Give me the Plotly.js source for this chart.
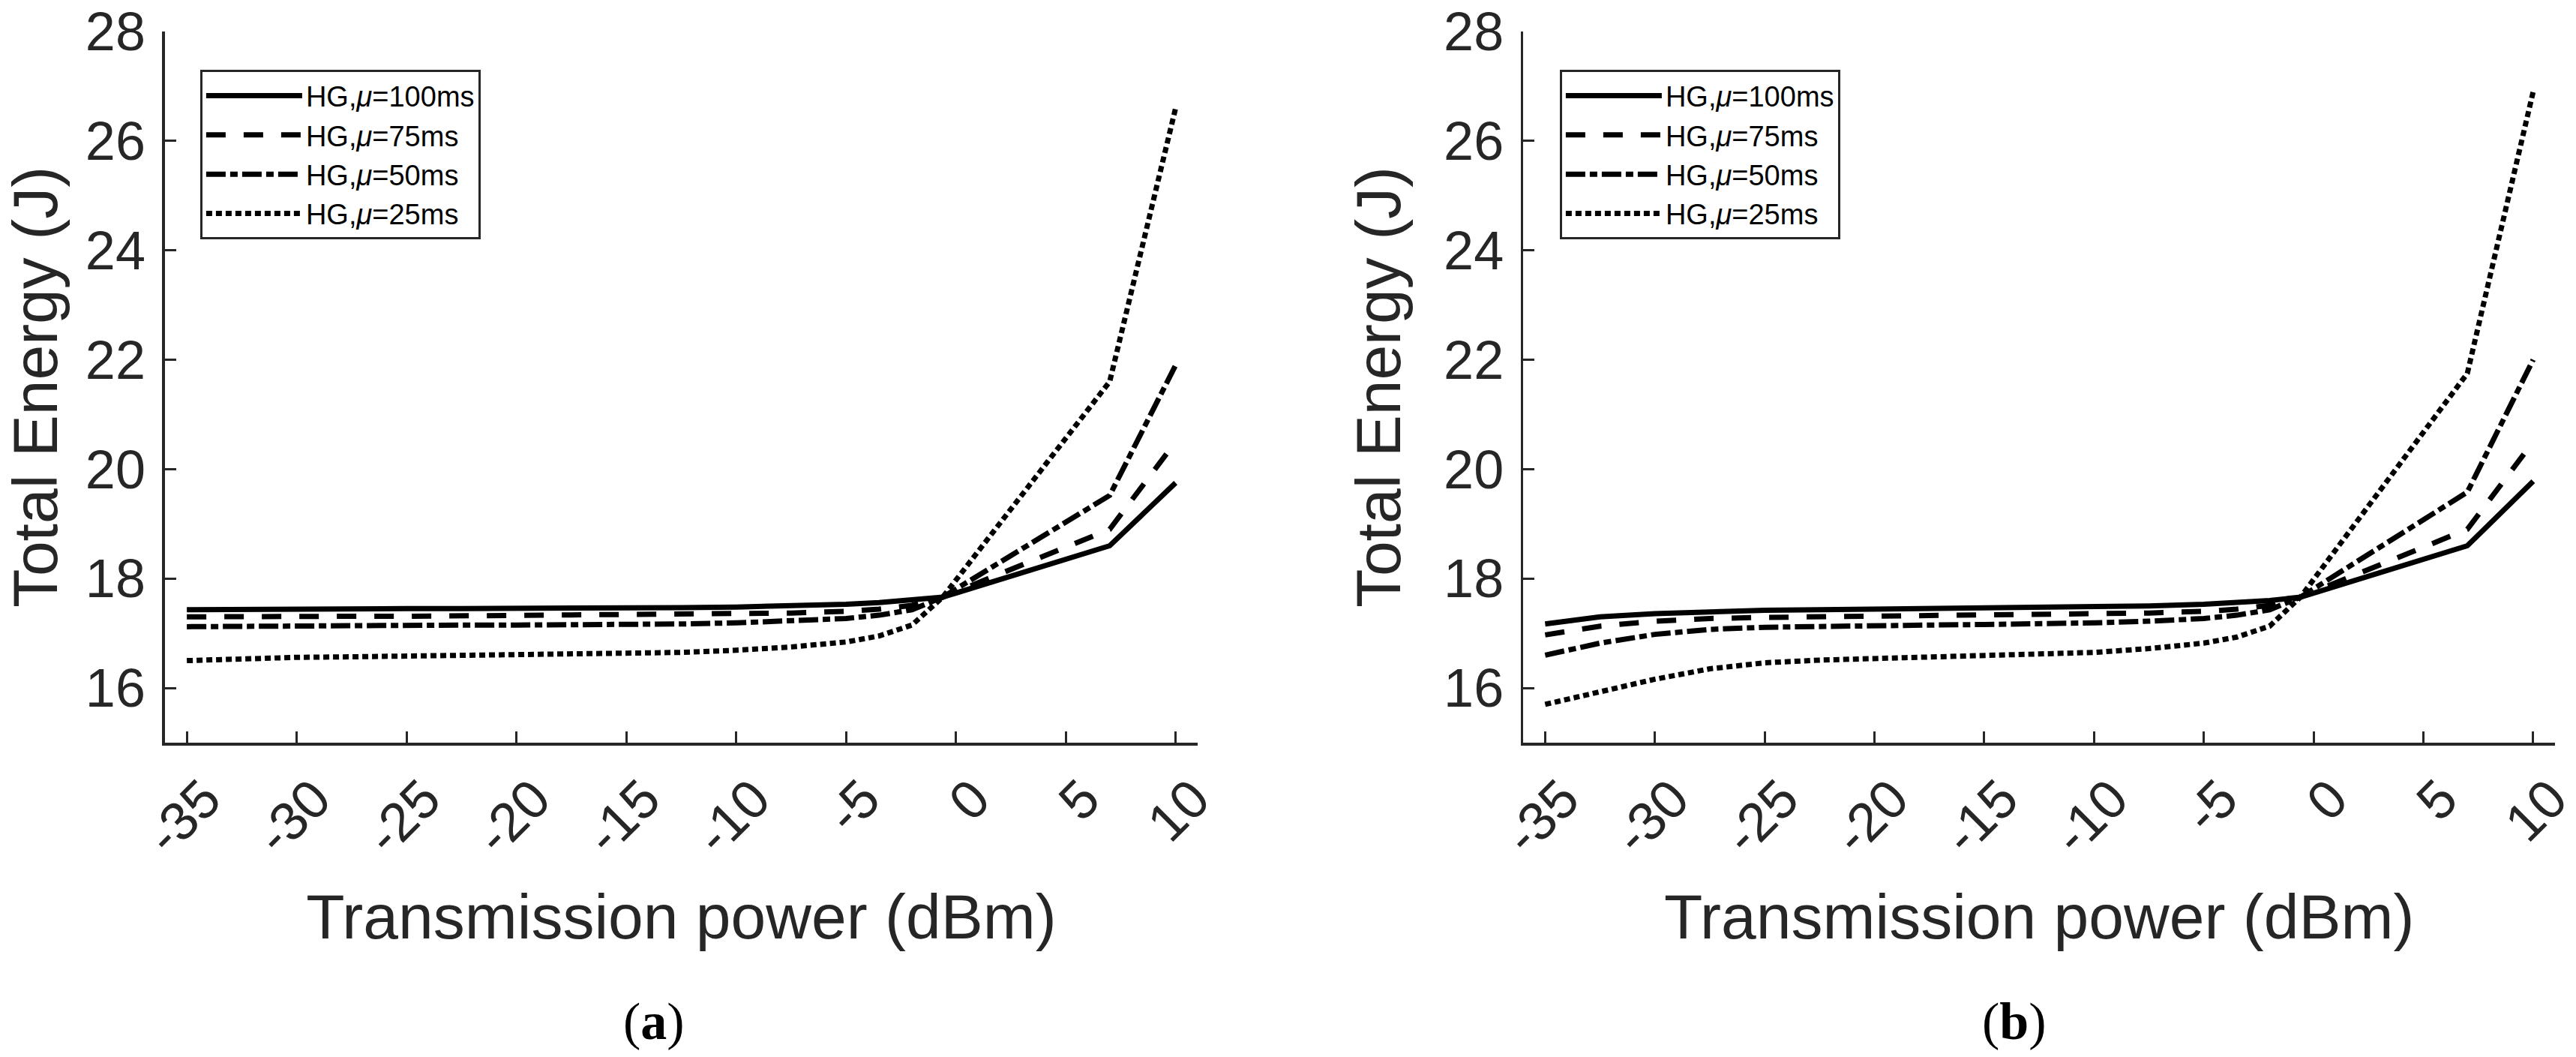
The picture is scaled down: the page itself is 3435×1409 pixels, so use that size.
<!DOCTYPE html>
<html>
<head>
<meta charset="utf-8">
<script src="https://cdn.plot.ly/plotly-3.0.1.min.js"></script>
<style>
  html, body { margin: 0; padding: 0; background: #fff; }
  #plot { width: 3435px; height: 1409px; }
</style>
</head>
<body>
<div id="plot"></div>
<script>
// transmission power (dBm), shared by both panels
var power = [-35, -32.5, -30, -27.5, -25, -22.5, -20, -17.5, -15, -12.5, -10, -7.5, -5, -3.5, -2, -0.6, 7, 10];

// panel (a): total energy (J)
var a100 = [17.43, 17.44, 17.44, 17.44, 17.45, 17.45, 17.45, 17.46, 17.46, 17.47, 17.48, 17.50, 17.53, 17.56, 17.60, 17.66, 18.60, 19.75];
var a75  = [17.30, 17.31, 17.31, 17.31, 17.31, 17.32, 17.32, 17.32, 17.33, 17.34, 17.35, 17.37, 17.40, 17.44, 17.51, 17.66, 18.90, 20.50];
var a50  = [17.12, 17.13, 17.14, 17.14, 17.14, 17.15, 17.15, 17.15, 17.16, 17.17, 17.19, 17.22, 17.27, 17.33, 17.43, 17.66, 19.52, 21.90];
var a25  = [16.50, 16.54, 16.56, 16.57, 16.58, 16.59, 16.60, 16.61, 16.62, 16.65, 16.69, 16.75, 16.84, 16.95, 17.15, 17.66, 21.60, 26.60];

// panel (b): total energy (J)
var b100 = [17.17, 17.30, 17.36, 17.40, 17.42, 17.43, 17.44, 17.45, 17.46, 17.47, 17.48, 17.50, 17.53, 17.56, 17.60, 17.66, 18.60, 19.78];
var b75  = [16.97, 17.13, 17.22, 17.27, 17.29, 17.30, 17.31, 17.32, 17.33, 17.34, 17.35, 17.37, 17.40, 17.44, 17.51, 17.66, 18.90, 20.50];
var b50  = [16.60, 16.82, 16.98, 17.07, 17.11, 17.13, 17.14, 17.15, 17.16, 17.17, 17.19, 17.22, 17.27, 17.33, 17.43, 17.66, 19.58, 22.00];
var b25  = [15.70, 15.93, 16.16, 16.35, 16.46, 16.51, 16.54, 16.56, 16.58, 16.61, 16.65, 16.72, 16.82, 16.93, 17.13, 17.66, 21.75, 26.90];

var names = ["HG,<i>\u03bc</i>=100ms", "HG,<i>\u03bc</i>=75ms", "HG,<i>\u03bc</i>=50ms", "HG,<i>\u03bc</i>=25ms"];
var xTicks = [-35, -30, -25, -20, -15, -10, -5, 0, 5, 10];
var xTickText = ["-35", "-30", "-25", "-20", "-15", "-10", "-5", "0", "5", "10"];
var yTicks = [16, 18, 20, 22, 24, 26, 28];

var dashes = ["solid", "26px,24px", "26px,6px,10px,6px", "8px,5px"];
var ink = "#262626";
var font = "Liberation Sans, Arial, Helvetica, sans-serif";
var serif = "Liberation Serif, Times New Roman, serif";

function series(ys, xa, ya, leg) {
  return ys.map(function (y, i) {
    return {
      x: power, y: y, xaxis: xa, yaxis: ya, legend: leg,
      type: "scatter", mode: "lines", name: names[i],
      line: { color: "#000", width: 7, dash: dashes[i] }
    };
  });
}

var data = series([a100, a75, a50, a25], "x", "y", "legend")
  .concat(series([b100, b75, b50, b25], "x2", "y2", "legend2"));

function xAxis(dom, anchor) {
  return {
    domain: dom, anchor: anchor, range: [-36, 11],
    tickvals: xTicks, ticktext: xTickText, tickangle: -45,
    ticklabelshift: 24, ticklabeloverflow: "allow",
    ticks: "inside", ticklen: 15, tickwidth: 3, tickcolor: ink,
    showline: true, linewidth: 3.5, linecolor: ink,
    showgrid: false, zeroline: false,
    tickfont: { family: font, size: 72, color: ink },
    title: { text: "Transmission power (dBm)", standoff: 40, font: { family: font, size: 84, color: ink } }
  };
}
function yAxis(anchor) {
  return {
    anchor: anchor, range: [15, 28],
    tickvals: yTicks, ticklabelstandoff: 8,
    ticks: "inside", ticklen: 15, tickwidth: 3, tickcolor: ink,
    showline: true, linewidth: 3.5, linecolor: ink,
    showgrid: false, zeroline: false,
    tickfont: { family: font, size: 72, color: ink },
    title: { text: "Total Energy (J)", standoff: 30, font: { family: font, size: 84, color: ink } }
  };
}
function legendAt(x) {
  return {
    x: x, y: 0.946, xanchor: "left", yanchor: "top",
    bgcolor: "#fff", bordercolor: ink, borderwidth: 3,
    font: { family: font, size: 38, color: "#000" },
    itemwidth: 128, tracegroupgap: 0
  };
}
function caption(t, x) {
  return { text: t, x: x, y: -0.392, xref: "paper", yref: "paper", xanchor: "center", yanchor: "middle",
    showarrow: false, font: { family: serif, size: 70, color: "#000" } };
}

var layout = {
  width: 3435, height: 1409,
  margin: { l: 0, r: 0, t: 42, b: 419 },
  paper_bgcolor: "#fff", plot_bgcolor: "#fff",
  showlegend: true,
  xaxis: xAxis([0.0640, 0.4649], "y"),
  yaxis: yAxis("x"),
  xaxis2: xAxis([0.5913, 0.9919], "y2"),
  yaxis2: yAxis("x2"),
  legend: legendAt(0.0777),
  legend2: legendAt(0.6055),
  annotations: [caption("(<b>a</b>)", 0.2538), caption("(<b>b</b>)", 0.782)]
};

Plotly.newPlot("plot", data, layout, { staticPlot: true });
</script>
</body>
</html>
